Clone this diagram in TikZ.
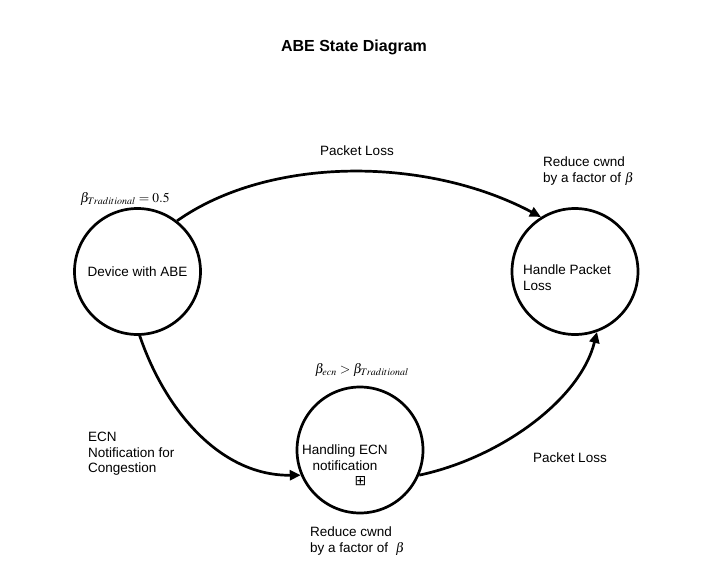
\documentclass[tikz,border=0pt]{standalone}
\usepackage{mathptmx}
\usepackage{fontspec}
\setmainfont{Liberation Sans}
\newfontfamily\boxglyph{DejaVu Sans}
\usetikzlibrary{arrows.meta}
\begin{document}
\begin{tikzpicture}[x=1pt,y=-1pt,>={Triangle[length=11pt,width=10pt]}]
        \tikzstyle{state}=[circle,draw=black,line width=2.7pt,minimum size=126pt,inner sep=0pt,font=\fontsize{13.5}{15.5}\selectfont]
        \tikzstyle{txt}=[font=\fontsize{13.5}{15.5}\selectfont,inner sep=0pt]
        \tikzstyle{edge}=[draw,->,line width=2.7pt]
        \useasboundingbox (0,0) rectangle (705,587);
        \node [font=\bfseries\fontsize{16}{19}\selectfont] (title) at (354,47) {ABE State Diagram};
       \begin{scope}
         \node [state] (abe) at (137.5,271.5) {Device with ABE};
         \node [state] (ecn) at (360,450) {};
         \node [state] (loss) at (575,271.5) {};
         \node [txt,align=center,anchor=north] (ecntext) at (345,445) {Handling ECN\\notification};
         \node [txt,font=\boxglyph\fontsize{14}{16}\selectfont] (more) at (360.5,481) {⊞};
         \node [txt,align=left,anchor=north west] (losstext) at (523,265) {Handle Packet\\Loss};
         \path[edge] (abe.52) .. controls (269,156) and (426,156) .. (loss.122);
         \path[edge] (abe.-88) .. controls (165,410) and (220,476) .. (ecn.203);
         \path[edge] (ecn.-23) .. controls (500,458) and (580,400) .. (loss.-70);
        \end{scope}
        % labels
        \node [txt] (lossa) at (357,151) {Packet Loss};
        \node [txt] (lossb) at (570,458) {Packet Loss};
        \node [txt,align=left,anchor=north west] (reducea) at (543,157) {Reduce cwnd\\by a factor of $\beta$};
        \node [txt,align=left,anchor=north west] (reduceb) at (310,527) {Reduce cwnd\\by a factor of~~$\beta$};
        \node [txt,align=left,anchor=north west] (notify) at (88,432) {ECN\\Notification for\\Congestion};
        \node [txt] (betatrad) at (125,199) {$\beta_{Traditional} = 0.5$};
        \node [txt] (betaecn) at (362,370) {$\beta_{ecn} > \beta_{Traditional}$};
      \end{tikzpicture}
\end{document}
